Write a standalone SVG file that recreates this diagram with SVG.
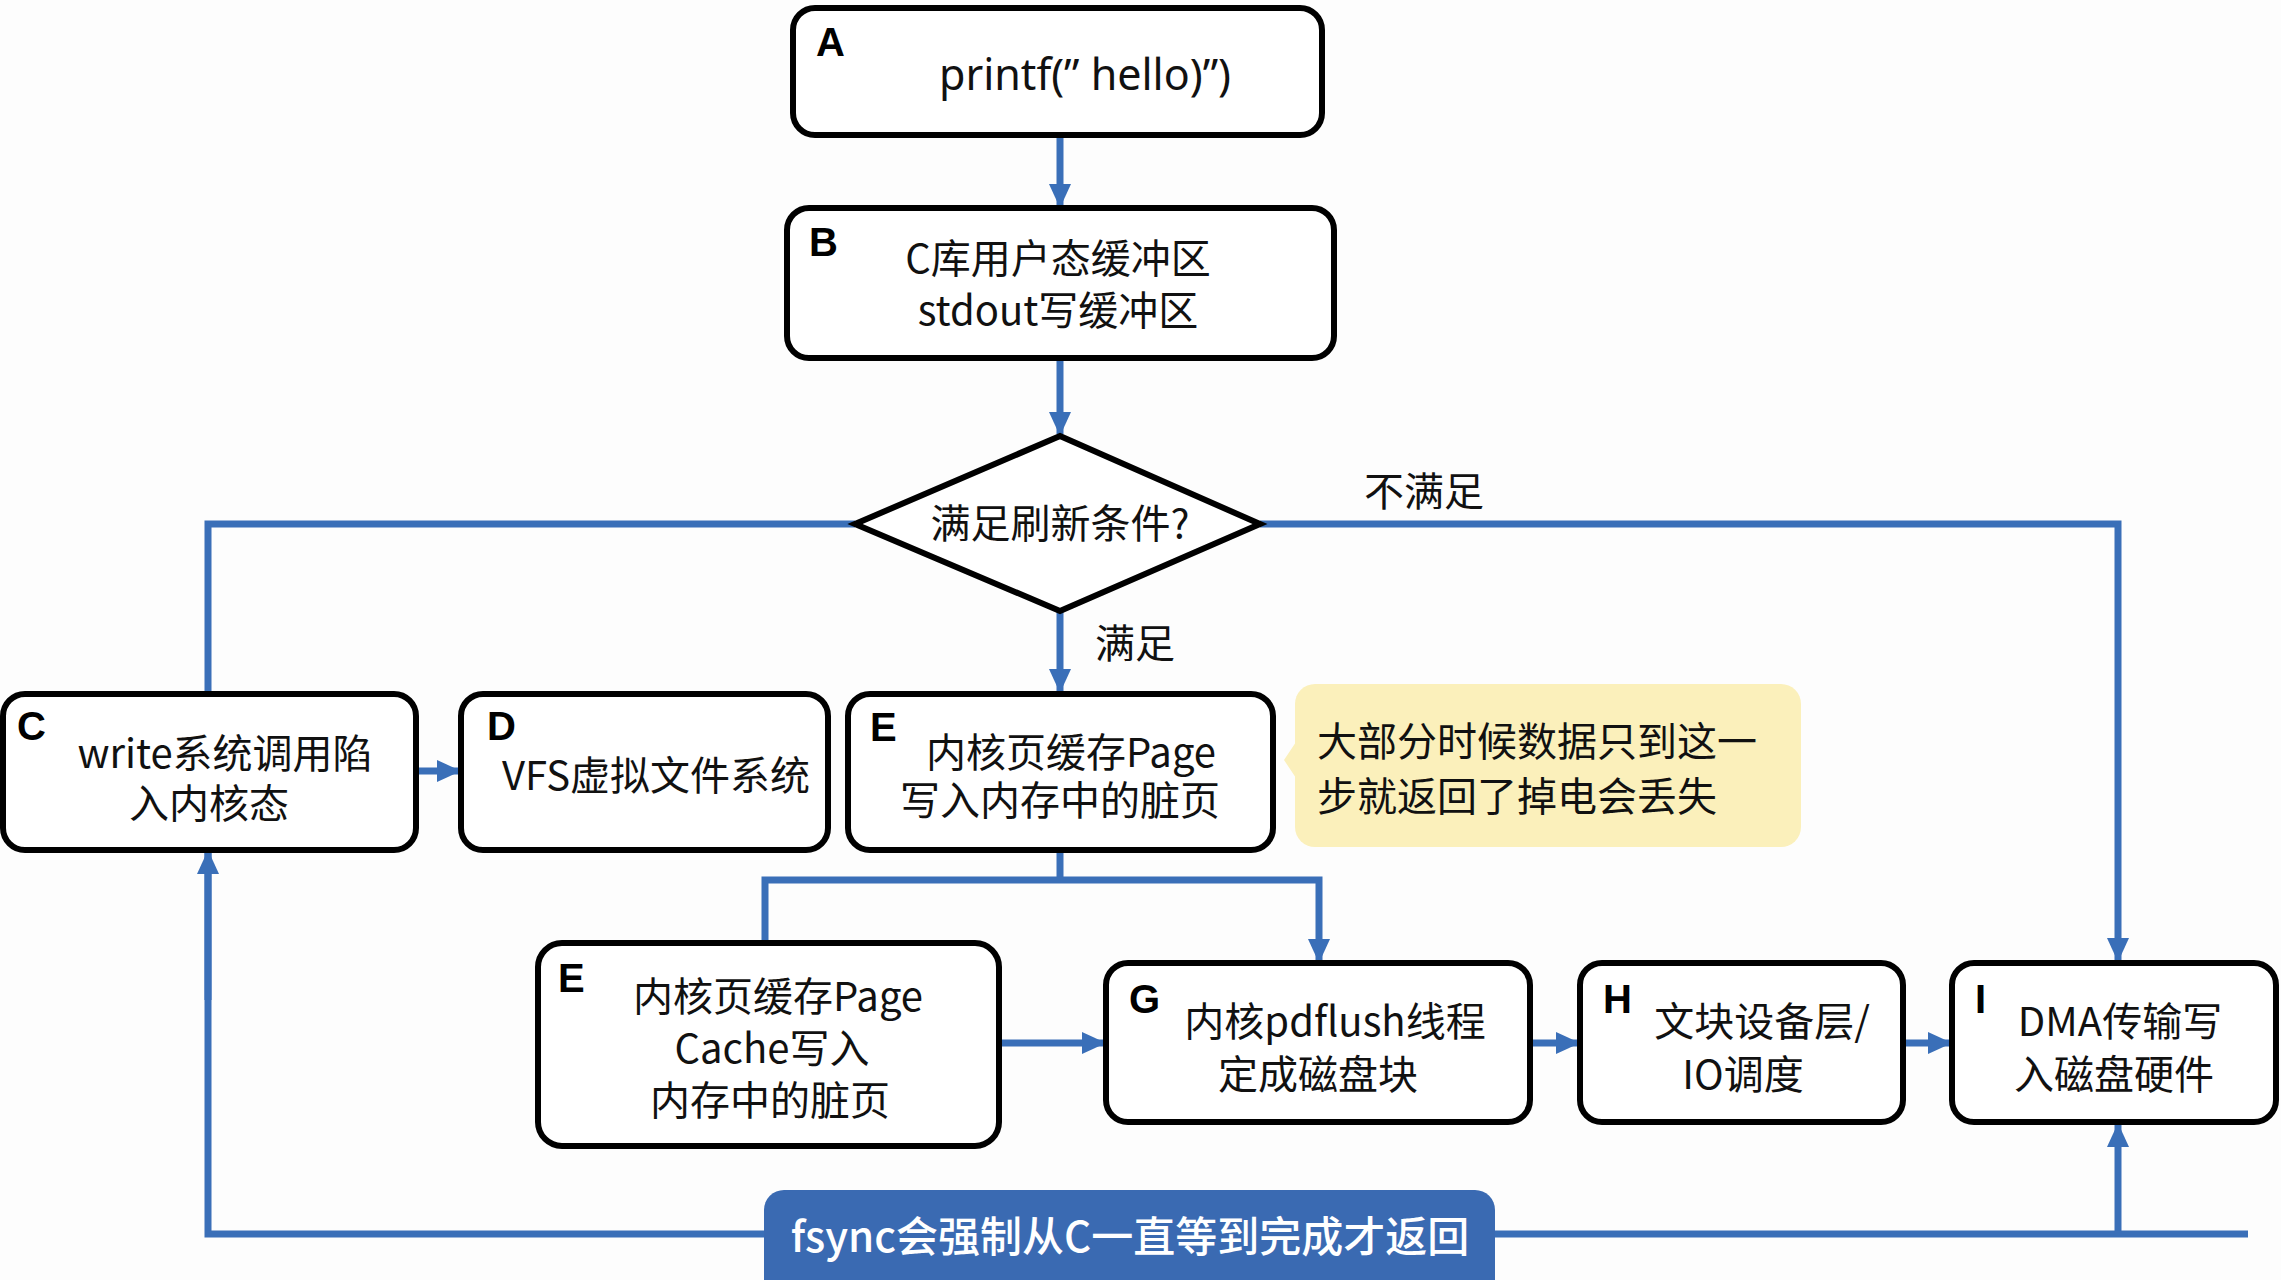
<svg xmlns="http://www.w3.org/2000/svg" width="2281" height="1280" viewBox="0 0 2281 1280">
<style>
.box{fill:#fff;stroke:#000;stroke-width:6}
.lbl{font-family:"Liberation Sans",Arial,sans-serif;font-weight:bold;font-size:40px;fill:#000}
.t{font-family:"Noto Sans CJK SC","Noto Sans",sans-serif;font-size:40px;fill:#111;text-anchor:middle}
.tl{font-family:"Noto Sans CJK SC","Noto Sans",sans-serif;font-size:40px;fill:#111}
.c{fill:none;stroke:#3A6FB8;stroke-width:7}
</style>
<defs>
<marker id="ah" markerUnits="userSpaceOnUse" markerWidth="24" markerHeight="24" viewBox="0 0 24 24" refX="22" refY="12" orient="auto">
<path d="M0,1 L24,12 L0,23 Z" fill="#3A6FB8"/>
</marker>
</defs>
<rect width="2281" height="1280" fill="#fdfdfd"/>

<g id="connectors">
<line class="c" x1="1060" y1="135" x2="1060" y2="206" marker-end="url(#ah)"/>
<line class="c" x1="1060" y1="358" x2="1060" y2="434" marker-end="url(#ah)"/>
<polyline class="c" points="855,524 208,524 208,694"/>
<polyline class="c" points="1260,524 2118,524 2118,960" marker-end="url(#ah)"/>
<line class="c" x1="1060" y1="611" x2="1060" y2="691" marker-end="url(#ah)"/>
<line class="c" x1="416" y1="771" x2="459" y2="771" marker-end="url(#ah)"/>
<line class="c" x1="1060" y1="850" x2="1060" y2="880"/>
<polyline class="c" points="765,942 765,880 1319,880 1319,961" marker-end="url(#ah)"/>
<line class="c" x1="999" y1="1043" x2="1104" y2="1043" marker-end="url(#ah)"/>
<line class="c" x1="1530" y1="1043" x2="1578" y2="1043" marker-end="url(#ah)"/>
<line class="c" x1="1903" y1="1043" x2="1950" y2="1043" marker-end="url(#ah)"/>
<polyline class="c" points="208,852 208,1234 2248,1234"/>
<line class="c" x1="208" y1="1000" x2="208" y2="852" marker-end="url(#ah)"/>
<line class="c" x1="2118" y1="1234" x2="2118" y2="1125" marker-end="url(#ah)"/>
<text class="tl" x="1364" y="506">不满足</text>
<text class="tl" x="1095" y="658">满足</text>
</g>

<g id="nodeA">
<rect class="box" x="793" y="8" width="529" height="127" rx="22"/>
<text class="lbl" x="816" y="56">A</text>
<text class="t" x="1085" y="90" style="font-family:'Noto Sans','Liberation Sans',sans-serif;font-size:43px">printf(” hello)”)</text>
</g>

<g id="nodeB">
<rect class="box" x="787" y="208" width="547" height="150" rx="22"/>
<text class="lbl" x="809" y="256">B</text>
<text class="t" y="273"><tspan x="1058">C库用户态缓冲区</tspan><tspan x="1058" dy="52">stdout写缓冲区</tspan></text>
</g>

<g id="decision">
<polygon class="box" points="1060,436 1260,524 1060,611 855,524"/>
<text class="t" x="1060" y="538">满足刷新条件?</text>
</g>

<g id="nodeC">
<rect class="box" x="3" y="694" width="413" height="156" rx="22"/>
<text class="lbl" x="17" y="740">C</text>
<text class="t" y="768"><tspan x="225">write系统调用陷</tspan><tspan x="209" dy="50">入内核态</tspan></text>
</g>

<g id="nodeD">
<rect class="box" x="461" y="694" width="367" height="156" rx="22"/>
<text class="lbl" x="487" y="740">D</text>
<text class="t" x="656" y="790">VFS虚拟文件系统</text>
</g>

<g id="nodeE1">
<rect class="box" x="848" y="694" width="425" height="156" rx="22"/>
<text class="lbl" x="870" y="741">E</text>
<text class="t" y="767"><tspan x="1071">内核页缓存Page</tspan><tspan x="1060" dy="48">写入内存中的脏页</tspan></text>
</g>

<g id="note">
<rect x="1295" y="684" width="506" height="163" rx="20" fill="#FBF0BB"/>
<polygon points="1296,742 1284,760 1296,778" fill="#FBF0BB"/>
<text class="tl" y="756"><tspan x="1317">大部分时候数据只到这一</tspan><tspan x="1317" dy="55">步就返回了掉电会丢失</tspan></text>
</g>

<g id="nodeE2">
<rect class="box" x="538" y="943" width="461" height="203" rx="24"/>
<text class="lbl" x="558" y="992">E</text>
<text class="t" y="1011"><tspan x="778">内核页缓存Page</tspan><tspan x="772" dy="52">Cache写入</tspan><tspan x="770" dy="52">内存中的脏页</tspan></text>
</g>

<g id="nodeG">
<rect class="box" x="1106" y="963" width="424" height="159" rx="22"/>
<text class="lbl" x="1129" y="1013">G</text>
<text class="t" y="1036"><tspan x="1335">内核pdflush线程</tspan><tspan x="1318" dy="53">定成磁盘块</tspan></text>
</g>

<g id="nodeH">
<rect class="box" x="1580" y="963" width="323" height="159" rx="22"/>
<text class="lbl" x="1603" y="1013">H</text>
<text class="t" y="1036"><tspan x="1762">文块设备层/</tspan><tspan x="1743" dy="53">IO调度</tspan></text>
</g>

<g id="nodeI">
<rect class="box" x="1952" y="963" width="324" height="159" rx="22"/>
<text class="lbl" x="1975" y="1013">I</text>
<text class="t" y="1036"><tspan x="2120">DMA传输写</tspan><tspan x="2114" dy="53">入磁盘硬件</tspan></text>
</g>

<g id="fsync">
<rect x="764" y="1190" width="731" height="110" rx="20" fill="#3A6AB2"/>
<text class="t" x="1130" y="1252" style="fill:#fff;font-weight:500;font-size:42px">fsync会强制从C一直等到完成才返回</text>
</g>
</svg>
